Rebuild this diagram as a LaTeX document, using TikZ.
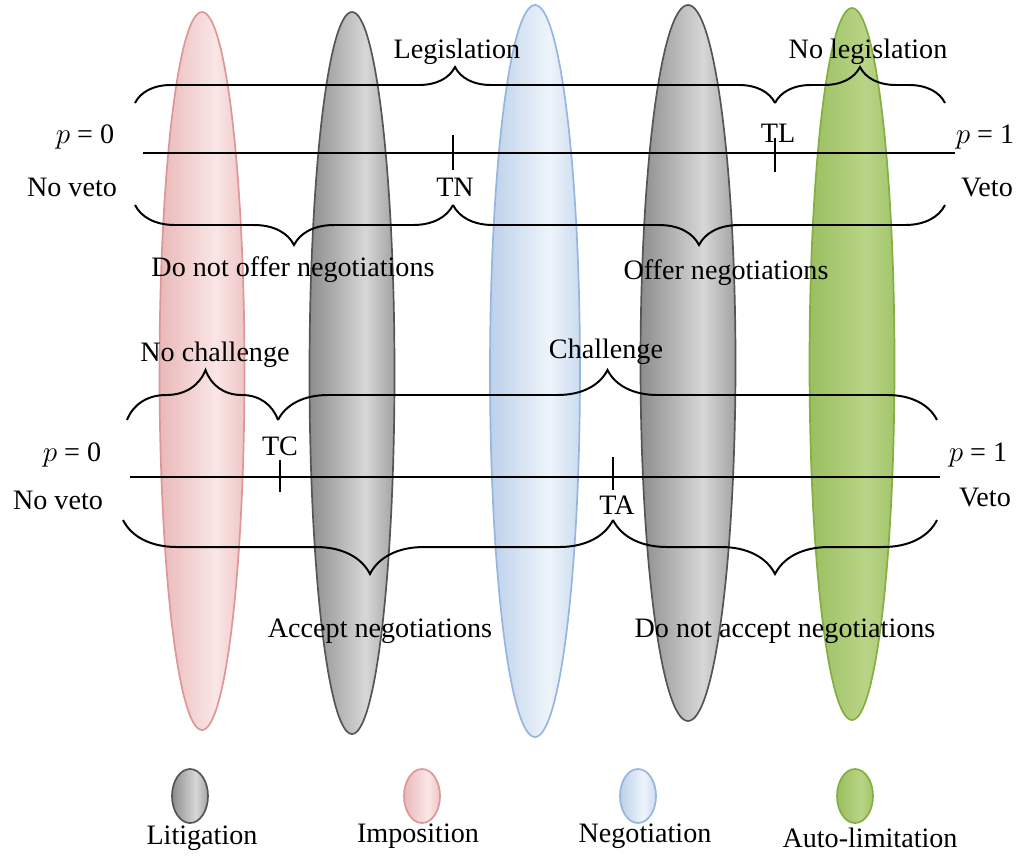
\documentclass[tikz,border=0pt]{standalone}
\usepackage{fontspec}
\setmainfont{Liberation Serif}
\usetikzlibrary{decorations.pathreplacing,shapes.geometric}
\definecolor{pinkE}{RGB}{222,150,150}\definecolor{pinkC}{RGB}{250,230,230}
\definecolor{grayE}{RGB}{85,85,85}\definecolor{grayC}{RGB}{215,215,215}
\definecolor{blueE}{RGB}{150,182,222}\definecolor{blueC}{RGB}{238,244,251}
\definecolor{greenE}{RGB}{130,175,65}\definecolor{greenC}{RGB}{185,212,135}
\pgfdeclarehorizontalshading{pinkS}{100bp}{color(0bp)=(pinkE);color(58bp)=(pinkC);color(100bp)=(pinkE)}
\pgfdeclarehorizontalshading{grayS}{100bp}{color(0bp)=(grayE);color(58bp)=(grayC);color(100bp)=(grayE)}
\pgfdeclarehorizontalshading{blueS}{100bp}{color(0bp)=(blueE);color(58bp)=(blueC);color(100bp)=(blueE)}
\pgfdeclarehorizontalshading{greenS}{100bp}{color(0bp)=(greenE);color(58bp)=(greenC);color(100bp)=(greenE)}
\begin{document}
\begin{tikzpicture}[x=0.025cm,y=-0.025cm,
  txt/.style={font=\fontsize{20}{24}\selectfont,inner sep=1pt},
  ln/.style={line width=1.4pt},
  br/.style={ln,decorate,decoration={brace,amplitude=#1}},
  ell/.style={ellipse,draw=#1E,line width=1.2pt,shading=#1S}]
\useasboundingbox (0,0) rectangle (1024,864);
% big ellipses
\node[ell=pink,minimum width=85*0.025cm,minimum height=718*0.025cm] (e1) at (202,371) {};
\node[ell=gray,minimum width=85*0.025cm,minimum height=722*0.025cm] (e2) at (352,373) {};
\node[ell=blue,minimum width=90*0.025cm,minimum height=732*0.025cm] (e3) at (535,371) {};
\node[ell=gray,minimum width=95*0.025cm,minimum height=716*0.025cm] (e4) at (688,363) {};
\node[ell=green,minimum width=85*0.025cm,minimum height=712*0.025cm] (e5) at (852,364) {};
% legend
\node[ell=gray,minimum width=36*0.025cm,minimum height=54*0.025cm] (l1) at (190,796) {};
\node[ell=pink,minimum width=36*0.025cm,minimum height=54*0.025cm] (l2) at (422,796) {};
\node[ell=blue,minimum width=36*0.025cm,minimum height=54*0.025cm] (l3) at (638,796) {};
\node[ell=green,minimum width=36*0.025cm,minimum height=54*0.025cm] (l4) at (855,796) {};
\node[txt] (t1) at (202,838) {Litigation};
\node[txt] (t2) at (418,836) {Imposition};
\node[txt] (t3) at (645,836) {Negotiation};
\node[txt] (t4) at (870,838) {Auto-limitation};
% top line
\coordinate (a0) at (143,153); \coordinate (a1) at (955,153);
\draw[ln] (a0) -- (a1);
\coordinate (tn1) at (453,135); \coordinate (tn2) at (453,170);
\draw[ln] (tn1) -- (tn2);
\coordinate (tl1) at (775,138); \coordinate (tl2) at (775,172);
\draw[ln] (tl1) -- (tl2);
\node[txt] (TN) at (455,187) {TN};
\node[txt] (TL) at (778,133) {TL};
\node[txt] (p0a) at (85,137) {$p$ = 0};
\node[txt] (nva) at (72,187) {No veto};
\node[txt] (p1a) at (985,137) {$p$ = 1};
\node[txt] (va) at (987,187) {Veto};
\coordinate (b1) at (135,103); \coordinate (b2) at (775,103); \coordinate (b3) at (945,103);
\draw[br=0.9cm] (b1) -- (b2);
\draw[br=0.9cm] (b2) -- (b3);
\node[txt] (leg) at (457,52) {Legislation};
\node[txt] (nleg) at (868,52) {No legislation};
\coordinate (c1) at (135,205); \coordinate (c2) at (453,205); \coordinate (c3) at (945,205);
\draw[br=1cm,decoration={mirror}] (c1) -- (c2);
\draw[br=1cm,decoration={mirror,aspect=0.5}] (c2) -- (c3);
\node[txt] (dno) at (293,270) {Do not offer negotiations};
\node[txt] (on) at (726,273) {Offer negotiations};
% bottom line
\coordinate (d0) at (130,477); \coordinate (d1) at (940,477);
\draw[ln] (d0) -- (d1);
\coordinate (tc1) at (280,460); \coordinate (tc2) at (280,492);
\draw[ln] (tc1) -- (tc2);
\coordinate (ta1) at (613,457); \coordinate (ta2) at (613,490);
\draw[ln] (ta1) -- (ta2);
\node[txt] (TC) at (280,446) {TC};
\node[txt] (TA) at (617,505) {TA};
\node[txt] (p0b) at (72,455) {$p$ = 0};
\node[txt] (nvb) at (58,500) {No veto};
\node[txt] (p1b) at (978,455) {$p$ = 1};
\node[txt] (vb) at (985,497) {Veto};
\coordinate (f1) at (127,420); \coordinate (f2) at (278,420); \coordinate (f3) at (937,420);
\draw[br=1.25cm,decoration={aspect=0.52}] (f1) -- (f2);
\draw[br=1.25cm] (f2) -- (f3);
\node[txt] (nc) at (215,355) {No challenge};
\node[txt] (ch) at (606,352) {Challenge};
\coordinate (g1) at (123,520); \coordinate (g2) at (613,520); \coordinate (g3) at (937,520);
\draw[br=1.35cm,decoration={mirror,aspect=0.504}] (g1) -- (g2);
\draw[br=1.35cm,decoration={mirror}] (g2) -- (g3);
\node[txt] (acc) at (380,631) {Accept negotiations};
\node[txt] (dna) at (785,631) {Do not accept negotiations};
\end{tikzpicture}
\end{document}
